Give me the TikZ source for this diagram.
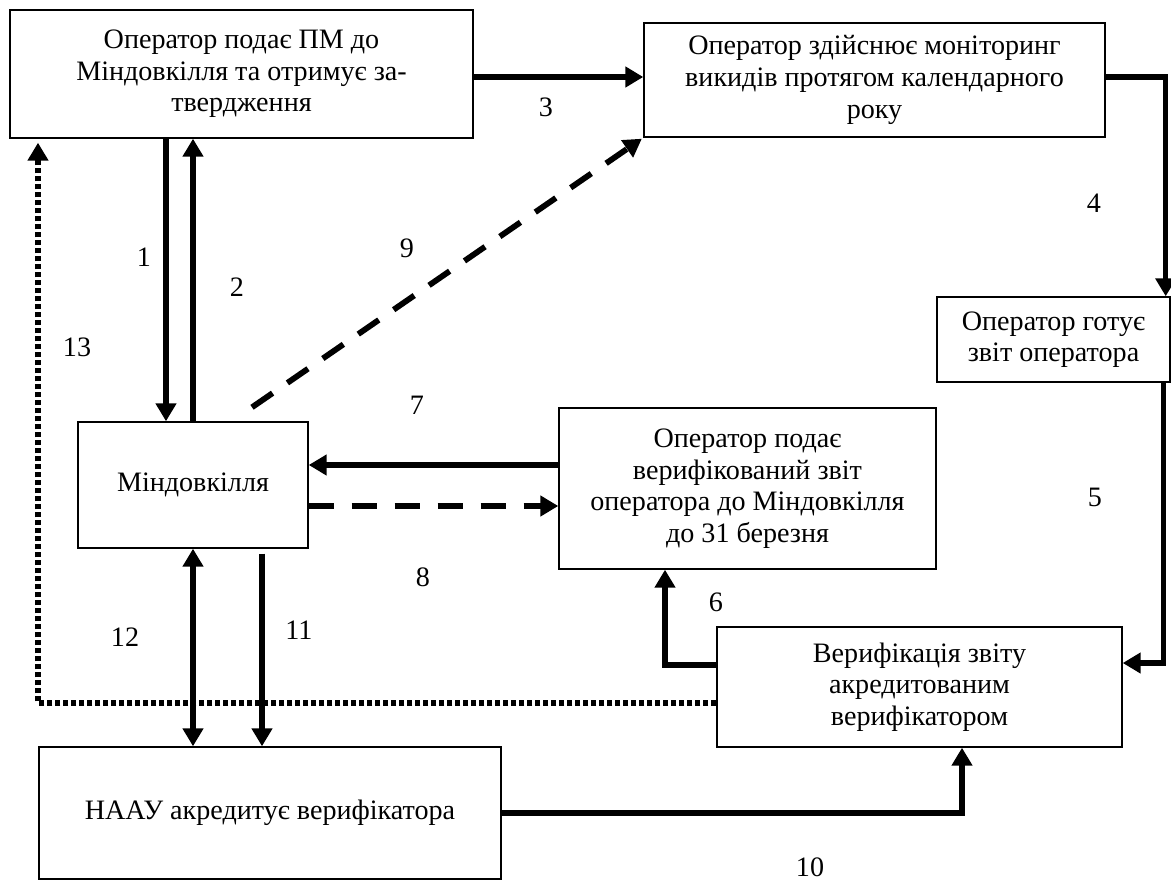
\documentclass[tikz,border=0pt]{standalone}
\usepackage{fontspec}
\setmainfont{Liberation Serif}
\usepackage{tikz}
\usetikzlibrary{arrows.meta, positioning, calc}

\begin{document}
\begin{tikzpicture}[
        procbox/.style={draw, line width=0.8pt, align=center, inner sep=0pt,
            font=\fontsize{16}{18}\selectfont},
        arrow/.style={-{Triangle[length=0.36cm, width=0.4cm]}, line width=3.1pt},
        dasharrow/.style={arrow, line width=3.3pt, dash pattern=on 0.5cm off 0.36cm},
        dotarrow/.style={arrow, line width=3.4pt, dash pattern=on 0.1cm off 0.06cm},
        numlabel/.style={font=\fontsize{16}{18}\selectfont},
    ]
    \useasboundingbox (0,0) rectangle (23.42,-17.7);

        % Boxes
        \node[procbox, minimum width=9.26cm, minimum height=2.56cm] (opA) at (4.83,-1.48)
            {Оператор подає ПМ до\\Міндовкілля та отримує за-\\твердження};
        \node[procbox, minimum width=9.22cm, minimum height=2.28cm] (opB) at (17.49,-1.6)
            {Оператор здійснює моніторинг\\викидів протягом календарного\\року};
        \node[procbox, minimum width=4.66cm, minimum height=1.7cm] (opC) at (21.07,-6.79)
            {Оператор готує\\звіт оператора};
        \node[procbox, minimum width=4.6cm, minimum height=2.52cm] (mind) at (3.86,-9.7)
            {Міндовкілля};
        \node[procbox, minimum width=7.54cm, minimum height=3.22cm] (opD) at (14.95,-9.77)
            {Оператор подає\\верифікований звіт\\оператора до Міндовкілля\\до 31 березня};
        \node[procbox, minimum width=8.1cm, minimum height=2.4cm] (verif) at (18.39,-13.74)
            {Верифікація звіту\\акредитованим\\верифікатором};
        \node[procbox, minimum width=9.24cm, minimum height=2.64cm] (naau) at (5.4,-16.26)
            {НААУ акредитує верифікатора};

        % Connectors
        \draw[arrow] ([xshift=-0.54cm]opA.south -| mind.north) -- ([xshift=-0.54cm]mind.north);
        \draw[arrow] (mind.north) -- (mind.north |- opA.south);
        \draw[arrow] ([yshift=-0.06cm]opA.east) -- ([yshift=-0.06cm]opA.east -| opB.west);
        \draw[arrow] ([yshift=0.06cm]opB.east) -| ([xshift=-0.1cm]opC.north east);
        \draw[arrow] ([xshift=-0.14cm]opC.south east) |- ([yshift=0.48cm]verif.east);
        \draw[arrow] ([yshift=0.44cm]verif.west) -| ([xshift=-1.65cm]opD.south);
        \draw[arrow] ([yshift=0.47cm]opD.west) -- ([yshift=0.47cm]opD.west -| mind.east);
        \draw[dasharrow] ([yshift=-0.42cm]mind.east) -- ([yshift=-0.42cm]mind.east -| opD.west);
        \coordinate (dstart) at ([shift={(1.18cm,0.28cm)}]mind.north);
        \draw[dasharrow, shorten >=1pt] (dstart) -- (opB.south west);
        \draw[arrow] (naau.east) -| ([xshift=0.85cm]verif.south);
        \draw[arrow] ([xshift=1.38cm,yshift=-0.1cm]mind.south) -- ([xshift=1.38cm]mind.south |- naau.north);
        \draw[arrow, {Triangle[length=0.36cm, width=0.4cm]}-{Triangle[length=0.36cm, width=0.4cm]}]
            (mind.south) -- (mind.south |- naau.north);
        \draw[dotarrow, shorten >=0.08cm] ([yshift=-0.32cm]verif.west) -| ([xshift=-4.07cm]opA.south);

        % Numbers
        \node[numlabel] (n1) at (2.88,-5.14) {1};
        \node[numlabel] (n2) at (4.74,-5.74) {2};
        \node[numlabel] (n3) at (10.92,-2.14) {3};
        \node[numlabel] (n4) at (21.88,-4.06) {4};
        \node[numlabel] (n5) at (21.9,-9.94) {5};
        \node[numlabel] (n6) at (14.32,-12.04) {6};
        \node[numlabel] (n7) at (8.34,-8.1) {7};
        \node[numlabel] (n8) at (8.46,-11.54) {8};
        \node[numlabel] (n9) at (8.14,-4.96) {9};
        \node[numlabel] (n10) at (16.2,-17.34) {10};
        \node[numlabel] (n11) at (5.98,-12.6) {11};
        \node[numlabel] (n12) at (2.5,-12.74) {12};
        \node[numlabel] (n13) at (1.54,-6.94) {13};

    \end{tikzpicture}
\end{document}
